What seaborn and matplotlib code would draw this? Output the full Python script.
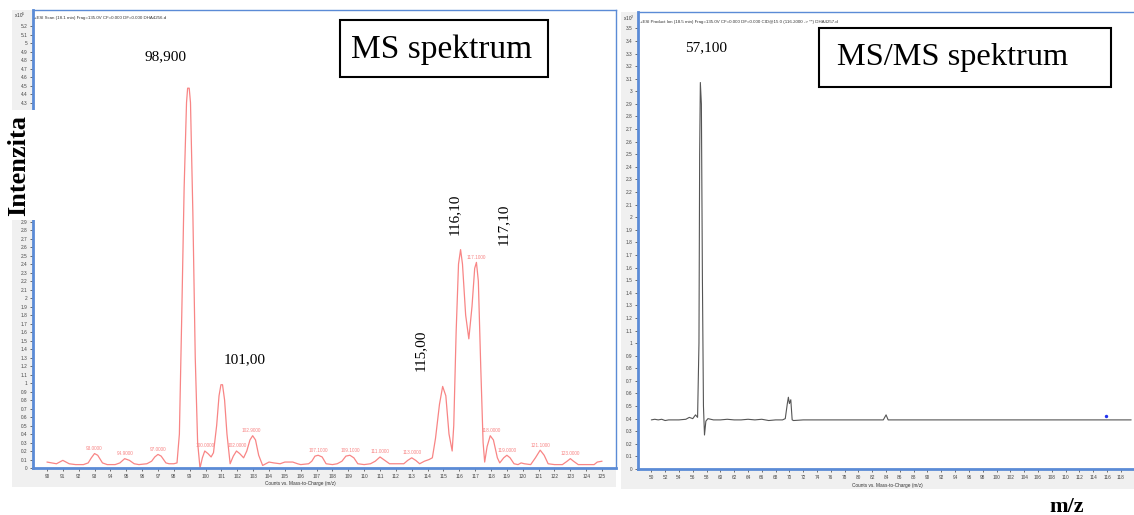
import matplotlib
matplotlib.use("Agg")
import matplotlib.pyplot as plt
from matplotlib.patches import Rectangle
import numpy as np
import pandas as pd
import seaborn as sns

# ---- Data ---------------------------------------------------------------
# MS spectrum (left panel), intensity in x10^5 counts
ms_mz = [
    90.0, 90.3, 90.6, 91.0, 91.4, 91.8, 92.3, 92.6, 92.8, 93.0, 93.2, 93.5,
    93.8, 94.3, 94.6, 94.9, 95.2, 95.5, 95.8, 96.3, 96.6, 96.8, 97.0, 97.2,
    97.5, 97.7, 98.0, 98.2, 98.35, 98.5, 98.65, 98.8, 98.87, 98.97, 99.05,
    99.2, 99.35, 99.5, 99.65, 99.8, 99.95, 100.15, 100.35, 100.5, 100.7,
    100.85, 100.97, 101.07, 101.2, 101.35, 101.55, 101.75, 101.95, 102.15,
    102.4, 102.6, 102.8, 102.97, 103.15, 103.35, 103.6, 103.8, 104.0, 104.3,
    104.7, 105.0, 105.5, 105.8, 106.0, 106.5, 106.7, 106.9, 107.1, 107.35,
    107.6, 108.0, 108.3, 108.6, 108.85, 109.1, 109.35, 109.6, 110.0, 110.4,
    110.7, 111.0, 111.3, 111.6, 112.0, 112.5, 112.75, 113.0, 113.25, 113.5,
    113.8, 114.1, 114.3, 114.5, 114.75, 114.95, 115.15, 115.35, 115.55,
    115.65, 115.8, 115.95, 116.08, 116.2, 116.4, 116.6, 116.8, 116.97,
    117.08, 117.2, 117.35, 117.5, 117.6, 117.75, 117.95, 118.15, 118.4,
    118.55, 118.8, 119.0, 119.2, 119.45, 119.7, 119.9, 120.1, 120.5, 120.8,
    121.1, 121.35, 121.6, 122.0, 122.5, 122.8, 123.0, 123.2, 123.5, 123.8,
    124.2, 124.5, 124.7, 125.0,
]
ms_int = [
    0.07, 0.06, 0.05, 0.09, 0.05, 0.04, 0.04, 0.06, 0.12, 0.17, 0.15, 0.06,
    0.04, 0.04, 0.06, 0.11, 0.09, 0.05, 0.04, 0.05, 0.08, 0.13, 0.16, 0.14,
    0.06, 0.05, 0.05, 0.06, 0.40, 1.80, 3.30, 4.30, 4.47, 4.47, 4.30,
    3.00, 1.30, 0.30, 0.00, 0.12, 0.20, 0.17, 0.13, 0.18, 0.50,
    0.85, 0.98, 0.98, 0.80, 0.40, 0.05, 0.14, 0.20, 0.17,
    0.12, 0.20, 0.33, 0.38, 0.33, 0.15, 0.03, 0.05, 0.07, 0.06,
    0.05, 0.07, 0.07, 0.05, 0.04, 0.05, 0.08, 0.14, 0.15, 0.13,
    0.05, 0.04, 0.05, 0.08, 0.14, 0.15, 0.12, 0.05, 0.04, 0.05,
    0.08, 0.13, 0.09, 0.05, 0.05, 0.05, 0.09, 0.12, 0.09, 0.05,
    0.08, 0.10, 0.12, 0.35, 0.75, 0.96, 0.85, 0.40, 0.20,
    0.50, 1.60, 2.40, 2.57, 2.40, 1.80, 1.52, 1.90, 2.35,
    2.42, 2.20, 1.20, 0.30, 0.07, 0.25, 0.38, 0.33, 0.12,
    0.06, 0.12, 0.15, 0.12, 0.05, 0.04, 0.06, 0.05, 0.04, 0.12,
    0.21, 0.15, 0.05, 0.04, 0.04, 0.08, 0.11, 0.08, 0.04, 0.04,
    0.04, 0.04, 0.07, 0.08,
]
ms_peak_mz = [93.0, 94.9, 97.0, 100.0, 102.0, 102.9, 107.1, 109.1, 111.0,
              113.0, 117.1, 118.0, 119.0, 121.1, 123.0]
ms_peak_int = [0.17, 0.11, 0.16, 0.20, 0.20, 0.38, 0.15, 0.15, 0.13,
               0.12, 2.42, 0.38, 0.15, 0.21, 0.11]
ms_peak_lbl = ["93.0000", "94.9000", "97.0000", "100.0000", "102.0000",
               "102.9000", "107.1000", "109.1000", "111.0000", "113.0000",
               "117.1000", "118.0000", "119.0000", "121.1000", "123.0000"]

# MS/MS spectrum (right panel), intensity in x10^2 counts
msms_mz = [
    50.0, 50.5, 51.0, 51.5, 52.0, 52.5, 53.0, 54.0, 55.0, 55.5, 56.0, 56.4,
    56.7, 56.9, 57.0, 57.1, 57.25, 57.4, 57.55, 57.7, 57.9, 58.2, 59.0, 60.0,
    61.0, 62.0, 63.0, 64.0, 65.0, 66.0, 67.0, 68.0, 69.0, 69.4, 69.7, 69.85,
    70.0, 70.2, 70.4, 70.6, 72.0, 73.0, 74.0, 76.0, 78.0, 80.0, 82.0, 83.6,
    84.0, 84.3, 86.0, 88.0, 90.0, 92.0, 94.0, 96.0, 98.0, 100.0, 102.0,
    104.0, 106.0, 108.0, 110.0, 112.0, 114.0, 116.0, 118.0, 119.5,
]
msms_int = [
    0.39, 0.395, 0.39, 0.395, 0.385, 0.39, 0.39, 0.39, 0.395, 0.41, 0.40, 0.43,
    0.41, 1.00, 2.50, 3.07, 2.90, 1.50, 0.50, 0.27, 0.38, 0.40, 0.39, 0.39,
    0.395, 0.39, 0.39, 0.395, 0.39, 0.395, 0.385, 0.39, 0.39, 0.40, 0.52, 0.57,
    0.52, 0.55, 0.39, 0.385, 0.39, 0.39, 0.39, 0.39, 0.39, 0.39, 0.39, 0.39,
    0.43, 0.39, 0.39, 0.39, 0.39, 0.39, 0.39, 0.39, 0.39, 0.39, 0.39,
    0.39, 0.39, 0.39, 0.39, 0.39, 0.39, 0.39, 0.39, 0.39,
]
msms_marker_mz = [115.9]
msms_marker_int = [0.42]

# ---- Style --------------------------------------------------------------
sns.set_theme(style="white")
plt.rcParams["font.family"] = ["Liberation Sans", "DejaVu Sans"]
plt.rcParams["text.color"] = "black"

W, H = 1134, 515
RED = "#f88585"
BLUE = "#5b8bd6"
GRAY_BG = "#f0f0f0"
SERIF = "Liberation Serif"

fig = plt.figure(figsize=(W / 100, H / 100), dpi=100, facecolor="white")


def px_rect(x0, y0, x1, y1, face, edge="none", lw=0, z=-1):
    fig.add_artist(Rectangle((x0 / W, 1 - y1 / H), (x1 - x0) / W, (y1 - y0) / H,
                             transform=fig.transFigure, facecolor=face,
                             edgecolor=edge, linewidth=lw, zorder=z))


def px_axes(x0, y0, x1, y1):
    return fig.add_axes([x0 / W, 1 - y1 / H, (x1 - x0) / W, (y1 - y0) / H])


def style_axes(ax):
    ax.set_facecolor("white")
    for side in ["left", "bottom"]:
        ax.spines[side].set_color(BLUE)
        ax.spines[side].set_linewidth(2.0)
    for side in ["top", "right"]:
        ax.spines[side].set_color(BLUE)
        ax.spines[side].set_linewidth(1.0)
    ax.tick_params(axis="both", which="both", direction="out", length=2.5,
                   width=0.6, color="#555555", labelsize=3.4,
                   labelcolor="#444444", pad=1.5, left=True, bottom=True)
    ax.set_xlabel("")
    ax.set_ylabel("")


# gray instrument-software panels
px_rect(12, 10, 616, 487, GRAY_BG)
px_rect(621, 12, W, 489, GRAY_BG)

# ---- Left: MS spectrum --------------------------------------------------
ax1 = px_axes(33, 10, 616, 468)
df_ms = pd.DataFrame({"mz": ms_mz, "intensity": ms_int})
sns.lineplot(data=df_ms, x="mz", y="intensity", ax=ax1, color=RED,
             linewidth=0.9, estimator=None, sort=False)
ax1.set_xlim(89.12, 125.88)
ax1.set_ylim(0, 5.39)
ax1.set_xticks(np.arange(90, 126, 1))
ax1.set_xticklabels([str(v) for v in range(90, 126)])
yt1 = np.round(np.arange(0, 5.25, 0.1), 1)
ax1.set_yticks(yt1)
# labels 3.0-4.2 sit under the pasted "Intenzita" caption
ax1.set_yticklabels(["" if 2.95 < v < 4.25 else f"{v:g}" for v in yt1])
style_axes(ax1)

for mz, it, lbl in zip(ms_peak_mz, ms_peak_int, ms_peak_lbl):
    ax1.text(mz, it + 0.03, lbl, color=RED, fontsize=3.4, ha="center",
             va="bottom")

ax1.text(89.2, 5.29, "+ESI Scan (18.1 min) Frag=135.0V CF=0.000 DF=0.000 DHA4256.d",
         fontsize=3.2, color="#333333", ha="left", va="center")

ax1.text(97.45, 4.84, "98,900", family=SERIF, fontsize=11, ha="center", va="center")
ax1.text(102.48, 1.27, "101,00", family=SERIF, fontsize=11, ha="center", va="center")
ax1.text(113.52, 1.38, "115,00", family=SERIF, fontsize=11, ha="center",
         va="center", rotation=90)
ax1.text(115.66, 2.99, "116,10", family=SERIF, fontsize=11, ha="center",
         va="center", rotation=90)
ax1.text(118.75, 2.87, "117,10", family=SERIF, fontsize=11, ha="center",
         va="center", rotation=90)

# ---- Right: MS/MS spectrum ----------------------------------------------
ax2 = px_axes(638, 12, W + 2, 469)
df_msms = pd.DataFrame({"mz": msms_mz, "intensity": msms_int})
sns.lineplot(data=df_msms, x="mz", y="intensity", ax=ax2, color="#555555",
             linewidth=0.8, estimator=None, sort=False)
sns.scatterplot(x=msms_marker_mz, y=msms_marker_int, ax=ax2, color="#2233ee",
                s=6, linewidth=0)
ax2.set_xlim(48.07, 120.2)
ax2.set_ylim(0, 3.63)
ax2.set_xticks(np.arange(50, 120, 2))
ax2.set_xticklabels([str(v) for v in range(50, 120, 2)])
yt2 = np.round(np.arange(0, 3.55, 0.1), 1)
ax2.set_yticks(yt2)
ax2.set_yticklabels([f"{v:g}" for v in yt2])
style_axes(ax2)
ax2.spines["right"].set_visible(False)

ax2.text(48.4, 3.55, "+ESI Product Ion (18.5 min) Frag=135.0V CF=0.000 DF=0.000 "
         "CID@15.0 (116.2000 -> **) DHA4257.d",
         fontsize=3.2, color="#333333", ha="left", va="center")
ax2.text(57.9, 3.35, "57,100", family=SERIF, fontsize=11, ha="center", va="center")

# ---- Figure-level labels -------------------------------------------------
fig.text(14 / W, 1 - 15 / H, "x10$^5$", fontsize=3.4, color="#333333",
         ha="left", va="center")
fig.text(623 / W, 1 - 18 / H, "x10$^2$", fontsize=3.4, color="#333333",
         ha="left", va="center")
fig.text(300 / W, 1 - 483 / H, "Counts vs. Mass-to-Charge (m/z)", fontsize=3.4,
         color="#333333", ha="center", va="center")
fig.text(887 / W, 1 - 486 / H, "Counts vs. Mass-to-Charge (m/z)", fontsize=3.4,
         color="#333333", ha="center", va="center")

# boxed captions
px_rect(340, 20, 548, 77, "white", edge="black", lw=1.5, z=5)
fig.text(351 / W, 1 - 50 / H, "MS spektrum", family=SERIF, fontsize=24,
         ha="left", va="center", zorder=6)
px_rect(819, 28, 1111, 87, "white", edge="black", lw=1.5, z=5)
fig.text(837 / W, 1 - 58 / H, "MS/MS spektrum", family=SERIF, fontsize=23.3,
         ha="left", va="center", zorder=6)

# white patch with the axis caption pasted over the left y axis
px_rect(0, 110, 36, 220, "white", z=5)
fig.text(19 / W, 1 - 166 / H, "Intenzita", family=SERIF, fontsize=19,
         fontweight="bold", ha="center", va="center", rotation=90, zorder=6)
fig.text(1067 / W, 1 - 507 / H, "m/z", family=SERIF, fontsize=16,
         fontweight="bold", ha="center", va="center")

fig.savefig("out.png", dpi=100, facecolor="white")
